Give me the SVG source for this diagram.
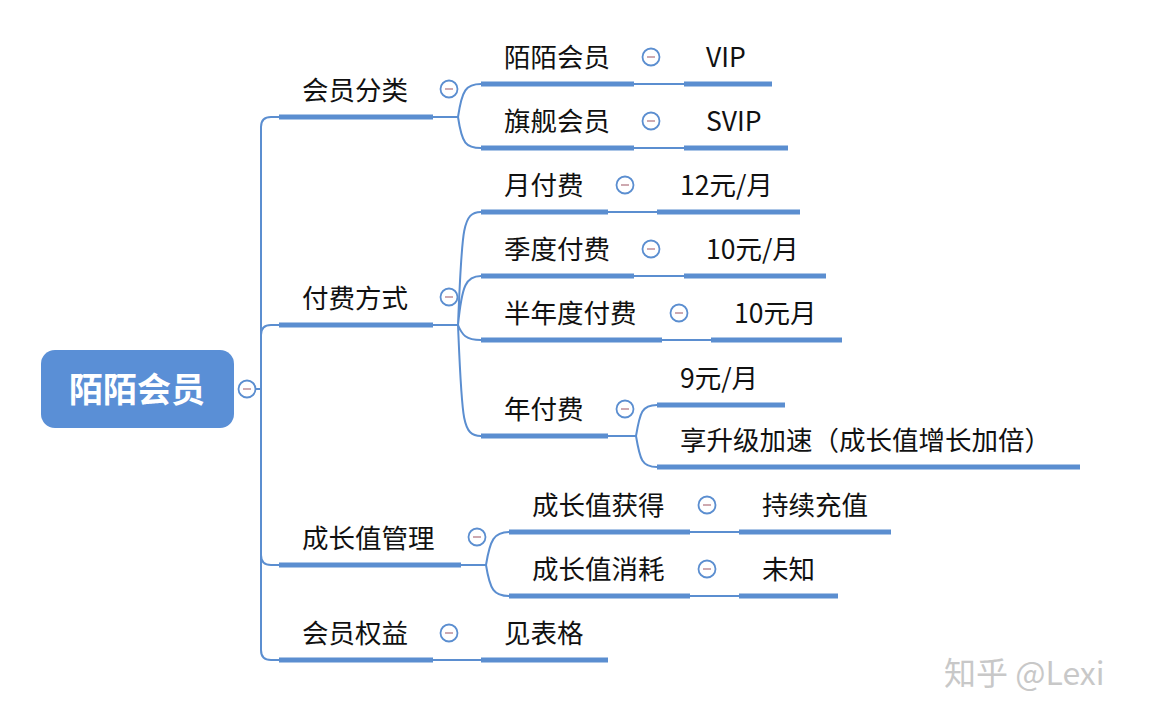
<svg xmlns="http://www.w3.org/2000/svg" width="1149" height="719" viewBox="0 0 1149 719">
<style>
text{font-family:"Microsoft YaHei","Noto Sans CJK SC",sans-serif;fill:#111}
.t1{font-size:26.5px}
.ul{stroke:#5b8ed0;stroke-width:5;fill:none}
.cn{stroke:#5b8ed0;stroke-width:2;fill:none}
.cc{fill:#fff;stroke:#5b8ed0;stroke-width:1.8}
.cm{stroke:#c9a0a8;stroke-width:1.8}
</style>
<defs>
<g id="col"><circle class="cc" r="8.5"/><line class="cm" x1="-4" y1="0" x2="4" y2="0"/></g>
</defs>
<rect width="1149" height="719" fill="#fff"/>
<g id="connectors">
<path class="cn" d="M247 389H261M261 127V650M261 127Q261 117 271 117H279M261 335Q261 325 271 325H279M261 555Q261 565 271 565H279M261 650Q261 660 271 660H279"/>
<path class="cn" d="M433 117H458M458 117C462 90 466 84 481 84M458 117C462 144 466 148 481 148"/>
<path class="cn" d="M433 325H458M458 325C462 230 462 212 481 212M458 325C462 285 466 276 481 276M458 325C462 335 466 340 481 340M458 325C462 420 462 436 481 436"/>
<path class="cn" d="M461 565H486M486 565C490 540 494 532 509 532M486 565C490 590 494 596 509 596"/>
<path class="cn" d="M433 660H481"/>
<path class="cn" d="M634 84H684M634 148H684M608 212H657M634 276H684M662 340H711M690 532H739M690 596H739"/>
<path class="cn" d="M608 436H636M636 436C640 412 642 405 657 405M636 436C640 460 642 467 657 467"/>
</g>
<g id="root"><rect x="41" y="350" width="193" height="78" rx="14" fill="#5a8fd6"/><text x="137" y="402" text-anchor="middle" font-size="34" font-weight="bold" style="fill:#fff">陌陌会员</text><use href="#col" x="247" y="389"/></g>
<g id="n1"><path class="ul" d="M279 117H433"/><text class="t1" x="302" y="100">会员分类</text><use href="#col" x="449" y="89"/></g>
<g id="n2"><path class="ul" d="M279 325H433"/><text class="t1" x="302" y="308">付费方式</text><use href="#col" x="449" y="297"/></g>
<g id="n3"><path class="ul" d="M279 565H461"/><text class="t1" x="302" y="548">成长值管理</text><use href="#col" x="477" y="537"/></g>
<g id="n4"><path class="ul" d="M279 660H433"/><text class="t1" x="302" y="643">会员权益</text><use href="#col" x="449" y="633"/></g>
<g id="n11"><path class="ul" d="M481 84H634"/><text class="t1" x="504" y="67">陌陌会员</text><use href="#col" x="651" y="57"/></g>
<g id="n111"><path class="ul" d="M684 84H772"/><text class="t1" x="706" y="67">VIP</text></g>
<g id="n12"><path class="ul" d="M481 148H634"/><text class="t1" x="504" y="131">旗舰会员</text><use href="#col" x="651" y="121"/></g>
<g id="n121"><path class="ul" d="M684 148H788"/><text class="t1" x="706" y="131">SVIP</text></g>
<g id="n21"><path class="ul" d="M481 212H608"/><text class="t1" x="504" y="195">月付费</text><use href="#col" x="625" y="185"/></g>
<g id="n211"><path class="ul" d="M657 212H800"/><text class="t1" x="680" y="195">12元/月</text></g>
<g id="n22"><path class="ul" d="M481 276H634"/><text class="t1" x="504" y="259">季度付费</text><use href="#col" x="651" y="249"/></g>
<g id="n221"><path class="ul" d="M684 276H826"/><text class="t1" x="706" y="259">10元/月</text></g>
<g id="n23"><path class="ul" d="M481 340H662"/><text class="t1" x="504" y="323">半年度付费</text><use href="#col" x="679" y="313"/></g>
<g id="n231"><path class="ul" d="M711 340H842"/><text class="t1" x="734" y="323">10元月</text></g>
<g id="n24"><path class="ul" d="M481 436H608"/><text class="t1" x="504" y="419">年付费</text><use href="#col" x="625" y="409"/></g>
<g id="n241"><path class="ul" d="M657 405H785"/><text class="t1" x="680" y="388">9元/月</text></g>
<g id="n242"><path class="ul" d="M657 467H1080"/><text class="t1" x="680" y="450">享升级加速（成长值增长加倍）</text></g>
<g id="n31"><path class="ul" d="M509 532H690"/><text class="t1" x="532" y="515">成长值获得</text><use href="#col" x="707" y="505"/></g>
<g id="n311"><path class="ul" d="M739 532H891"/><text class="t1" x="762" y="515">持续充值</text></g>
<g id="n32"><path class="ul" d="M509 596H690"/><text class="t1" x="532" y="579">成长值消耗</text><use href="#col" x="707" y="569"/></g>
<g id="n321"><path class="ul" d="M739 596H838"/><text class="t1" x="762" y="579">未知</text></g>
<g id="n41"><path class="ul" d="M481 660H608"/><text class="t1" x="504" y="643">见表格</text></g>
<text x="944" y="685" font-size="32" style="fill:#c8c8c8">知乎 @Lexi</text>
</svg>
